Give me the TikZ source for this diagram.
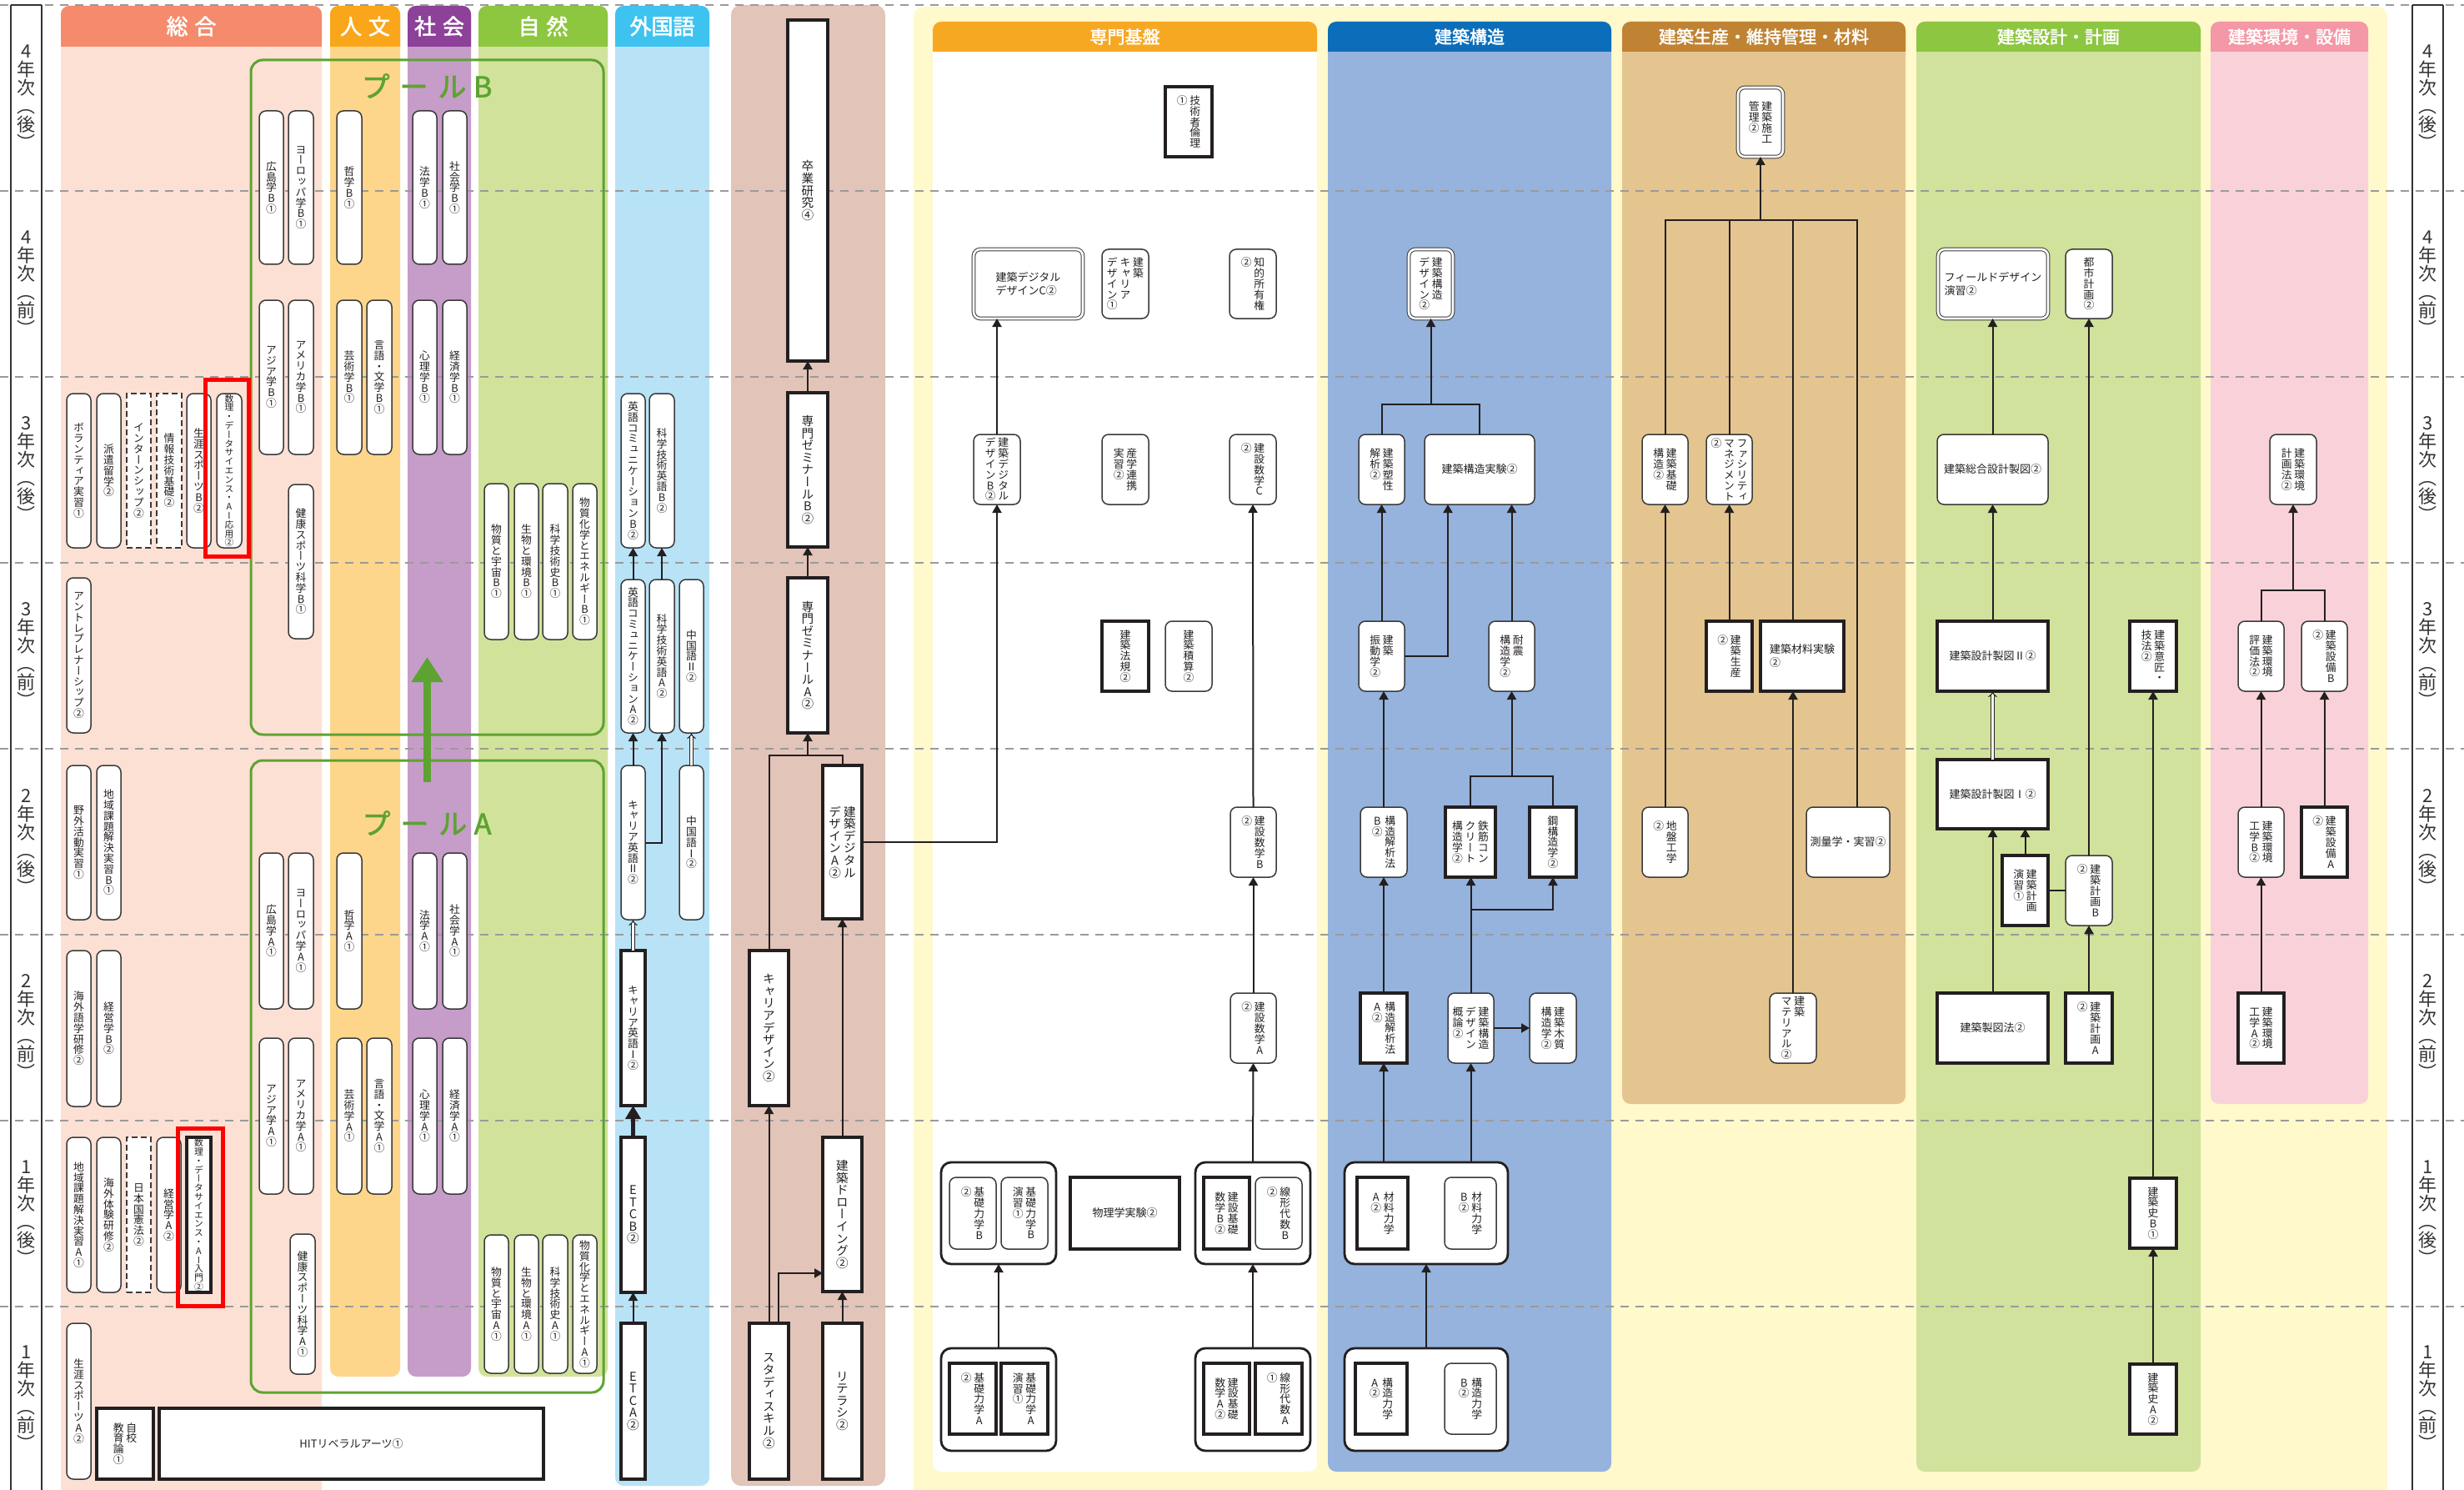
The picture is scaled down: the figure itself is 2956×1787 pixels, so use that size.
\documentclass[tikz,border=0pt]{standalone}
\usepackage{fontspec}
\usetikzlibrary{arrows.meta}
\setmainfont{Noto Sans CJK JP}
\newfontfamily\vf[RawFeature=+vert]{Noto Sans CJK JP}
\newfontfamily\hb[FakeBold=2]{Noto Sans CJK JP}
\newdimen\tp
\def\tend{TEND}
\def\tone#1{\hbox to\tp{\hss#1\hss}}
\def\tloop#1{\ifx#1\tend\else\tone{#1}\expandafter\tloop\fi}
\def\tcol#1{\vtop{\tp=1em\relax\baselineskip=\tp\lineskiplimit=-\maxdimen\lineskip=0pt\tloop#1\tend}}
\newcommand\vtxb[2]{\hbox{\tcol{#2}\hskip0.22em\tcol{#1}}}
\newcommand\vtxc[3]{\hbox{\tcol{#3}\hskip0.22em\tcol{#2}\hskip0.22em\tcol{#1}}}
\newcommand\bx[7]{\node[#1,minimum width={(#5-#3)*0.5pt},minimum height={(#6-#4)*0.5pt}] (#2) at ({(#3+#5)/2},{(#4+#6)/2}) {#7};}
\newcommand\colm[7]{%
  \fill[#7, rounded corners=5pt] (#1,#2) rectangle (#3,#5);
  \fill[#6] (#1,#4) [rounded corners=5pt] -- (#1,#2) -- (#3,#2) [sharp corners] -- (#3,#4) -- cycle;}
\definecolor{tx}{HTML}{231F20}
\definecolor{bd}{HTML}{3A3A3A}
\definecolor{bk}{HTML}{231F20}
\definecolor{lc}{HTML}{231F20}
\definecolor{pg}{HTML}{5DA331}
\definecolor{dashc}{HTML}{9A9A9A}
\definecolor{cSogoH}{HTML}{F58B6C}\definecolor{cSogoB}{HTML}{FDE0D4}
\definecolor{cJinH}{HTML}{FAA61A}\definecolor{cJinB}{HTML}{FDD68B}
\definecolor{cShaH}{HTML}{8D4199}\definecolor{cShaB}{HTML}{C69CC9}
\definecolor{cShiH}{HTML}{8DC63F}\definecolor{cShiB}{HTML}{D1E39B}
\definecolor{cGaiH}{HTML}{3EC3F0}\definecolor{cGaiB}{HTML}{B8E3F7}
\definecolor{cBrn}{HTML}{E2C4B9}
\definecolor{cYlw}{HTML}{FFF9CC}
\definecolor{cSenH}{HTML}{F7A823}
\definecolor{cKozH}{HTML}{0C6EBB}\definecolor{cKozB}{HTML}{95B3DD}
\definecolor{cSeiH}{HTML}{C08333}\definecolor{cSeiB}{HTML}{E4C590}
\definecolor{cSekH}{HTML}{8DC640}\definecolor{cSekB}{HTML}{D0E29B}
\definecolor{cKanH}{HTML}{F497A6}\definecolor{cKanB}{HTML}{F9D2D9}
\definecolor{lblc}{HTML}{333333}
\tikzset{
 nb/.style={inner sep=0pt, outer sep=0pt, fill=white, text=tx, font=\vf\fontsize{6.4}{6.4}\selectfont},
 rb/.style={nb, draw=bd, line width=0.75pt, rounded corners=4pt},
 sb/.style={nb, draw=bk, line width=1.8pt},
 db/.style={nb, draw=bd, line width=0.5pt, double=white, double distance=1.3pt, rounded corners=4pt},
 dsb/.style={nb, draw=bd, line width=0.7pt, dash pattern=on 3.5pt off 2pt},
 grp/.style={nb, draw=bk, line width=1.4pt, rounded corners=6pt},
 hz/.style={font=\fontsize{6.5}{8}\selectfont, align=center},
 hzl/.style={font=\fontsize{6.5}{8}\selectfont, align=left},
 bigf/.style={font=\vf\fontsize{7.3}{7.3}\selectfont},
 smf/.style={font=\vf\fontsize{5.4}{5.4}\selectfont},
 pool/.style={draw=pg, line width=1.5pt, rounded corners=7pt, inner sep=0pt, outer sep=0pt},
 redb/.style={draw=red, line width=2.5pt, inner sep=0pt, outer sep=0pt},
 arr/.style={draw=lc, line width=1pt, -{Triangle[width=5.5pt,length=5pt]}},
 lk/.style={draw=lc, line width=1pt},
 dbl/.style={draw=lc, line width=0.5pt, double=white, double distance=1.3pt, -{Implies}},
 thk/.style={draw=lc, line width=2.5pt, -{Triangle[width=9pt,length=8pt]}},
 hdr/.style={text=white, font=\hb\fontsize{13}{13}\selectfont, inner sep=0pt},
 hdrs/.style={text=white, font=\hb\fontsize{10.5}{10.5}\selectfont, inner sep=0pt},
 plbl/.style={text=pg, font=\hb\fontsize{17}{17}\selectfont, inner sep=0pt},
 ylbl/.style={text=lblc, font=\vf\fontsize{11}{11}\selectfont, inner sep=0pt},
 dsh/.style={draw=dashc, line width=0.6pt, dash pattern=on 5pt off 4pt},
}
\begin{document}
\begin{tikzpicture}[x=0.5pt,y=-0.5pt]
\useasboundingbox (0,0) rectangle (2956,1787);
\fill[white] (0,0) rectangle (2956,1787);
% ---- backgrounds
\fill[cYlw, rounded corners=6pt] (1096,8) rectangle (2864,1810);
\colm{73}{7}{386}{56}{1810}{cSogoH}{cSogoB}
\colm{396}{7}{480}{56}{1651}{cJinH}{cJinB}
\colm{489}{7}{565}{56}{1651}{cShaH}{cShaB}
\colm{574}{7}{729}{56}{1651}{cShiH}{cShiB}
\colm{738}{7}{851}{56}{1782}{cGaiH}{cGaiB}
\fill[cBrn, rounded corners=6pt] (877,6) rectangle (1062,1782);
\colm{1119}{26}{1580}{62}{1765}{cSenH}{white}
\colm{1593}{26}{1933}{62}{1765}{cKozH}{cKozB}
\colm{1946}{26}{2286}{62}{1324}{cSeiH}{cSeiB}
\colm{2299}{26}{2640}{62}{1765}{cSekH}{cSekB}
\colm{2652}{26}{2841}{62}{1324}{cKanH}{cKanB}
% ---- headers
\node[hdr] (hSogo) at (229.5,31.5) {総\hspace{.3em}合};
\node[hdr] (hJin) at (438,31.5) {人\hspace{.3em}文};
\node[hdr] (hSha) at (527,31.5) {社\hspace{.3em}会};
\node[hdr] (hShi) at (651.5,31.5) {自\hspace{.3em}然};
\node[hdr] (hGai) at (794.5,31.5) {外国語};
\node[hdrs] (hSen) at (1349.5,44) {専門基盤};
\node[hdrs] (hKoz) at (1763,44) {建築構造};
\node[hdrs] (hSei) at (2116,44) {建築生産・維持管理・材料};
\node[hdrs] (hSek) at (2469.5,44) {建築設計・計画};
\node[hdrs] (hKan) at (2746.5,44) {建築環境・設備};
% ---- grid
\foreach \yy in {6,229,452,675,898,1121,1344,1567} \draw[dsh] (0,\yy) -- (2956,\yy);
\foreach \xx in {13,50,2894,2931} \draw[draw=lblc, line width=0.6pt] (\xx,6) -- (\xx,1787);
\draw[draw=lblc, line width=0.6pt] (13,6) -- (50,6) (2894,6) -- (2931,6);
\foreach \yc/\lb [count=\i] in {117/4年次︵後︶,340/4年次︵前︶,563/3年次︵後︶,786/3年次︵前︶,1010/2年次︵後︶,1232/2年次︵前︶,1455/1年次︵後︶,1677/1年次︵前︶}{
  \node[ylbl] (lL\i) at (31.5,\yc) {\expandafter\tcol\expandafter{\lb}};
  \node[ylbl] (lR\i) at (2912.5,\yc) {\expandafter\tcol\expandafter{\lb}};
}
% ---- pools
\bx{pool}{poolB}{301}{72}{724}{881}{}
\bx{pool}{poolA}{301}{912}{724}{1670}{}
\node[plbl] (plB) at (512,103) {プ\hspace{.35em}ー\hspace{.35em}ル\hspace{.25em}B};
\node[plbl] (plA) at (512,987) {プ\hspace{.35em}ー\hspace{.35em}ル\hspace{.25em}A};
\draw[draw=pg, line width=4.5pt, -{Triangle[width=18pt,length=15pt]}] ([yshift=-13pt]poolA.north) -- ([yshift=46.5pt]poolB.south);
% ---- 総合
\bx{rb}{volunteer}{80}{472}{109}{657}{\tcol{ボランティア実習①}}
\bx{rb}{haken}{116}{472}{145}{657}{\tcol{派遣留学②}}
\bx{dsb}{intern}{152}{472}{181}{657}{\tcol{インターンシップ②}}
\bx{dsb}{joho}{188}{472}{218}{657}{\tcol{情報技術基礎②}}
\bx{rb}{shogaiB}{224}{472}{253}{657}{\tcol{生涯スポーツB②}}
\bx{rb,smf}{suriO}{260}{472}{290}{657}{\tcol{数理・データサイエンス・AI応用②}}
\bx{rb}{entre}{80}{693}{109}{879}{\tcol{アントレプレナーシップ②}}
\bx{rb}{yagai}{80}{918}{109}{1103}{\tcol{野外活動実習①}}
\bx{rb}{chiikiB}{116}{918}{145}{1103}{\tcol{地域課題解決実習B①}}
\bx{rb}{kaigaiGo}{80}{1140}{109}{1327}{\tcol{海外語学研修②}}
\bx{rb}{keieiB}{116}{1140}{145}{1327}{\tcol{経営学B②}}
\bx{rb}{chiikiA}{80}{1364}{109}{1550}{\tcol{地域課題解決実習A①}}
\bx{rb}{kaigaiTai}{116}{1364}{145}{1550}{\tcol{海外体験研修②}}
\bx{dsb}{kenpo}{152}{1364}{181}{1550}{\tcol{日本国憲法②}}
\bx{rb}{keieiA}{188}{1364}{217}{1550}{\tcol{経営学A②}}
\bx{sb,smf}{suriN}{224}{1364}{253}{1550}{\tcol{数理・データサイエンス・AI入門②}}
\bx{rb}{shogaiA}{80}{1587}{109}{1774}{\tcol{生涯スポーツA②}}
\bx{sb}{jiko}{116}{1689}{184}{1774}{\vtxb{自校}{教育論①}}
\bx{sb,hz}{hit}{191}{1689}{652}{1774}{HITリベラルアーツ①}
\bx{redb}{red1}{246}{455}{298}{667}{}
\bx{redb}{red2}{213}{1353}{267}{1566}{}
% ---- pool B
\bx{rb}{hiroB}{311}{133}{340}{317}{\tcol{広島学B①}}
\bx{rb}{euroB}{346}{133}{376}{317}{\tcol{ヨーロッパ学B①}}
\bx{rb}{tetsuB}{404}{133}{434}{317}{\tcol{哲学B①}}
\bx{rb}{hoB}{495}{133}{524}{317}{\tcol{法学B①}}
\bx{rb}{shakaiB}{531}{133}{560}{317}{\tcol{社会学B①}}
\bx{rb}{asiaB}{311}{360}{340}{545}{\tcol{アジア学B①}}
\bx{rb}{ameB}{346}{360}{376}{545}{\tcol{アメリカ学B①}}
\bx{rb}{geiB}{404}{360}{434}{545}{\tcol{芸術学B①}}
\bx{rb}{gengoB}{440}{360}{470}{545}{\tcol{言語・文学B①}}
\bx{rb}{shinriB}{495}{360}{524}{545}{\tcol{心理学B①}}
\bx{rb}{keizaiB}{531}{360}{560}{545}{\tcol{経済学B①}}
\bx{rb}{kenkoB}{346}{581}{376}{766}{\tcol{健康スポーツ科学B①}}
\bx{rb}{uchuB}{581}{580}{610}{767}{\tcol{物質と宇宙B①}}
\bx{rb}{seibutsuB}{617}{580}{646}{767}{\tcol{生物と環境B①}}
\bx{rb}{kagakuB}{651}{580}{681}{767}{\tcol{科学技術史B①}}
\bx{rb}{energyB}{687}{580}{716}{767}{\tcol{物質化学とエネルギーB①}}
% ---- pool A
\bx{rb}{hiroA}{311}{1023}{340}{1210}{\tcol{広島学A①}}
\bx{rb}{euroA}{346}{1023}{376}{1210}{\tcol{ヨーロッパ学A①}}
\bx{rb}{tetsuA}{404}{1023}{434}{1210}{\tcol{哲学A①}}
\bx{rb}{hoA}{495}{1023}{524}{1210}{\tcol{法学A①}}
\bx{rb}{shakaiA}{531}{1023}{560}{1210}{\tcol{社会学A①}}
\bx{rb}{asiaA}{311}{1245}{340}{1432}{\tcol{アジア学A①}}
\bx{rb}{ameA}{346}{1245}{376}{1432}{\tcol{アメリカ学A①}}
\bx{rb}{geiA}{404}{1245}{434}{1432}{\tcol{芸術学A①}}
\bx{rb}{gengoA}{440}{1245}{470}{1432}{\tcol{言語・文学A①}}
\bx{rb}{shinriA}{495}{1245}{524}{1432}{\tcol{心理学A①}}
\bx{rb}{keizaiA}{531}{1245}{560}{1432}{\tcol{経済学A①}}
\bx{rb}{kenkoA}{348}{1480}{378}{1648}{\tcol{健康スポーツ科学A①}}
\bx{rb}{uchuA}{581}{1481}{610}{1647}{\tcol{物質と宇宙A①}}
\bx{rb}{seibutsuA}{617}{1481}{646}{1647}{\tcol{生物と環境A①}}
\bx{rb}{kagakuA}{651}{1481}{681}{1647}{\tcol{科学技術史A①}}
\bx{rb}{energyA}{687}{1481}{716}{1647}{\tcol{物質化学とエネルギーA①}}
% ---- 外国語
\bx{rb}{engB}{745}{472}{774}{657}{\tcol{英語コミュニケーションB②}}
\bx{rb}{sciB}{779}{472}{809}{657}{\tcol{科学技術英語B②}}
\bx{rb}{engA}{745}{695}{774}{879}{\tcol{英語コミュニケーションA②}}
\bx{rb}{sciA}{779}{695}{809}{879}{\tcol{科学技術英語A②}}
\bx{rb}{chnII}{815}{695}{844}{879}{\tcol{中国語Ⅱ②}}
\bx{rb}{careerII}{745}{918}{774}{1103}{\tcol{キャリア英語Ⅱ②}}
\bx{rb}{chnI}{815}{918}{844}{1103}{\tcol{中国語Ⅰ②}}
\bx{sb}{careerI}{745}{1140}{774}{1326}{\tcol{キャリア英語Ⅰ②}}
\bx{sb,bigf}{etcB}{745}{1364}{774}{1550}{\tcol{ETCB②}}
\bx{sb,bigf}{etcA}{745}{1587}{774}{1774}{\tcol{ETCA②}}
% ---- brown column
\bx{sb,bigf}{sotsu}{945}{24}{993}{433}{\tcol{卒業研究④}}
\bx{sb,bigf}{zemiB}{945}{471}{993}{656}{\tcol{専門ゼミナールB②}}
\bx{sb,bigf}{zemiA}{945}{693}{993}{879}{\tcol{専門ゼミナールA②}}
\bx{sb,bigf}{digA}{987}{918}{1034}{1102}{\vtxb{建築デジタル}{デザインA②}}
\bx{sb,bigf}{careerD}{899}{1140}{946}{1326}{\tcol{キャリアデザイン②}}
\bx{sb,bigf}{drawing}{987}{1364}{1034}{1549}{\tcol{建築ドローイング②}}
\bx{sb,bigf}{study}{899}{1587}{946}{1774}{\tcol{スタディスキル②}}
\bx{sb,bigf}{literacy}{987}{1587}{1034}{1774}{\tcol{リテラシ②}}
% ---- 専門基盤
\bx{sb}{rinri}{1398}{104}{1454}{188}{\vtxb{技術者倫理}{①}}
\bx{db,hzl}{digC}{1168}{299}{1299}{382}{建築デジタル\\デザインC②}
\bx{rb}{kcareer}{1322}{299}{1378}{382}{\vtxc{建築}{キャリア}{デザイン①}}
\bx{rb}{chiteki}{1475}{299}{1531}{382}{\vtxb{知的所有権}{②}}
\bx{rb}{digB}{1168}{521}{1224}{605}{\vtxb{建築デジタル}{デザインB②}}
\bx{rb}{sangaku}{1322}{521}{1378}{605}{\vtxb{産学連携}{実習②}}
\bx{rb}{mathC}{1475}{521}{1531}{605}{\vtxb{建設数学C}{②}}
\bx{sb}{hoki}{1322}{745}{1378}{829}{\tcol{建築法規②}}
\bx{rb}{sekisan}{1398}{745}{1454}{829}{\tcol{建築積算②}}
\bx{rb}{mathB}{1476}{968}{1531}{1052}{\vtxb{建設数学B}{②}}
\bx{rb}{mathA}{1476}{1191}{1531}{1275}{\vtxb{建設数学A}{②}}
\bx{grp}{gL1}{1129}{1394}{1267}{1516}{}
\bx{rb}{kisoB}{1139}{1412}{1195}{1498}{\vtxb{基礎力学B}{②}}
\bx{rb}{kisoEB}{1201}{1412}{1257}{1498}{\vtxb{基礎力学B}{演習①}}
\bx{sb,hz}{butsuri}{1284}{1412}{1415}{1498}{物理学実験②}
\bx{grp}{gR1}{1434}{1394}{1572}{1516}{}
\bx{sb}{kmathB}{1444}{1412}{1499}{1498}{\vtxb{建設基礎}{数学B②}}
\bx{rb}{senkeiB}{1506}{1412}{1562}{1498}{\vtxb{線形代数B}{②}}
\bx{grp}{gL0}{1129}{1617}{1267}{1740}{}
\bx{sb}{kisoA}{1139}{1635}{1195}{1720}{\vtxb{基礎力学A}{②}}
\bx{sb}{kisoEA}{1201}{1635}{1257}{1720}{\vtxb{基礎力学A}{演習①}}
\bx{grp}{gR0}{1434}{1617}{1572}{1740}{}
\bx{sb}{kmathA}{1444}{1635}{1499}{1720}{\vtxb{建設基礎}{数学A②}}
\bx{sb}{senkeiA}{1506}{1635}{1562}{1720}{\vtxb{線形代数A}{①}}
% ---- 建築構造
\bx{db}{sdesign}{1690}{299}{1743}{382}{\vtxb{建築構造}{デザイン②}}
\bx{rb}{sosei}{1630}{521}{1685}{605}{\vtxb{建築塑性}{解析②}}
\bx{rb,hz}{sjikken}{1709}{521}{1841}{605}{建築構造実験②}
\bx{rb}{shindo}{1630}{745}{1685}{829}{\vtxb{建築}{振動学②}}
\bx{rb}{taishin}{1786}{745}{1841}{829}{\vtxb{耐震}{構造学②}}
\bx{rb}{kaisekiB}{1632}{968}{1688}{1052}{\vtxb{構造解析法}{B②}}
\bx{sb}{rc}{1734}{968}{1794}{1052}{\vtxc{鉄筋コン}{クリート}{構造学②}}
\bx{sb}{kou}{1835}{968}{1891}{1052}{\tcol{鋼構造学②}}
\bx{sb}{kaisekiA}{1632}{1191}{1688}{1275}{\vtxb{構造解析法}{A②}}
\bx{rb}{gairon}{1737}{1191}{1792}{1275}{\vtxc{建築構造}{デザイン}{概論②}}
\bx{rb}{mokushitsu}{1835}{1191}{1891}{1275}{\vtxb{建築木質}{構造学②}}
\bx{grp}{gS1}{1613}{1394}{1809}{1516}{}
\bx{sb}{zairikiA}{1628}{1412}{1689}{1498}{\vtxb{材料力学}{A②}}
\bx{rb}{zairikiB}{1733}{1412}{1795}{1498}{\vtxb{材料力学}{B②}}
\bx{grp}{gS0}{1613}{1617}{1809}{1740}{}
\bx{sb}{kozoA}{1626}{1635}{1688}{1720}{\vtxb{構造力学}{A②}}
\bx{rb}{kozoB}{1733}{1635}{1795}{1720}{\vtxb{構造力学}{B②}}
% ---- 生産
\bx{db}{sekou}{2085}{105}{2139}{188}{\vtxb{建築施工}{管理②}}
\bx{rb}{kiso}{1970}{521}{2025}{605}{\vtxb{建築基礎}{構造②}}
\bx{rb}{facility}{2047}{521}{2102}{605}{\vtxc{ファシリティ}{マネジメント}{②}}
\bx{sb}{seisan}{2047}{745}{2102}{829}{\vtxb{建築生産}{②}}
\bx{sb,hzl}{zjikken}{2112}{745}{2212}{829}{建築材料実験\\②}
\bx{rb}{jiban}{1970}{968}{2025}{1052}{\vtxb{地盤工学}{②}}
\bx{rb,hz}{sokuryo}{2167}{968}{2267}{1052}{測量学・実習②}
\bx{rb}{material}{2123}{1191}{2179}{1275}{\vtxb{建築}{マテリアル②}}
% ---- 設計・計画
\bx{db,hzl}{field}{2325}{299}{2457}{382}{フィールドデザイン\\演習②}
\bx{rb}{toshi}{2478}{299}{2534}{382}{\tcol{都市計画②}}
\bx{rb,hz}{sogo}{2324}{521}{2457}{605}{建築総合設計製図②}
\bx{sb,hz}{seizu2}{2324}{745}{2457}{829}{建築設計製図Ⅱ②}
\bx{sb}{isho}{2555}{745}{2611}{829}{\vtxb{建築意匠・}{技法②}}
\bx{sb,hz}{seizu1}{2324}{911}{2457}{994}{建築設計製図Ⅰ②}
\bx{sb}{kenshu}{2402}{1026}{2457}{1110}{\vtxb{建築計画}{演習①}}
\bx{rb}{keikakuB}{2478}{1026}{2534}{1110}{\vtxb{建築計画B}{②}}
\bx{sb,hz}{seizuho}{2324}{1191}{2457}{1275}{建築製図法②}
\bx{sb}{keikakuA}{2478}{1191}{2534}{1275}{\vtxb{建築計画A}{②}}
\bx{sb}{shiB}{2555}{1413}{2611}{1497}{\tcol{建築史B①}}
\bx{sb}{shiA}{2555}{1636}{2611}{1720}{\tcol{建築史A②}}
% ---- 環境・設備
\bx{rb}{kankyoKei}{2723}{521}{2779}{605}{\vtxb{建築環境}{計画法②}}
\bx{rb}{hyoka}{2685}{745}{2740}{829}{\vtxb{建築環境}{評価法②}}
\bx{rb}{setsubiB}{2761}{745}{2816}{829}{\vtxb{建築設備B}{②}}
\bx{rb}{kkB}{2685}{968}{2740}{1052}{\vtxb{建築環境}{工学B②}}
\bx{sb}{setsubiA}{2761}{968}{2816}{1052}{\vtxb{建築設備A}{②}}
\bx{sb}{kkA}{2685}{1191}{2740}{1275}{\vtxb{建築環境}{工学A②}}
% ==== connectors
% 外国語
\draw[arr] (engA.north) -- (engB.south);
\draw[arr] (sciA.north) -- (sciB.south);
\draw[arr] (careerII.north) -- (engA.south);
\draw[arr] (careerII.east) -| (sciA.south);
\draw[dbl] (careerI.north) -- (careerII.south);
\draw[dbl] (chnI.north) -- (chnII.south);
\draw[thk] (etcB.north) -- (careerI.south);
\draw[arr] (etcA.north) -- (etcB.south);
% brown
\draw[arr] (zemiA.north) -- (zemiB.south);
\draw[arr] (zemiB.north) -- (sotsu.south);
\draw[arr] (study.north) -- (careerD.south);
\draw[arr] ([xshift=5.5pt]study.north) |- ([yshift=11pt]drawing.south west);
\draw[arr] (literacy.north) -- (drawing.south);
\draw[arr] (drawing.north) -- (digA.south);
\coordinate (jz) at (968,906);
\draw[lk] (careerD.north) |- (digA.north |- jz) -- (digA.north);
\draw[arr] (zemiA.south |- jz) -- (zemiA.south);
\draw[arr] (digA.east) -| (digB.south);
% 専門基盤
\draw[arr] (digB.north) -- (digB.north |- digC.south);
\draw[arr] (mathB.north) -- (mathC.south);
\draw[arr] (mathA.north) -- (mathB.south);
\draw[arr] (gR1.north) -- (mathA.south);
\draw[arr] (gL0.north) -- (gL1.south);
\draw[arr] (gR0.north) -- (gR1.south);
% 建築構造
\draw[arr] (kaisekiA.north) -- (kaisekiB.south);
\draw[arr] (kaisekiA.south |- gS1.north) -- (kaisekiA.south);
\draw[arr] (gairon.south |- gS1.north) -- (gairon.south);
\draw[arr] (gS0.north) -- (gS1.south);
\draw[arr] (kaisekiB.north) -- (kaisekiB.north |- shindo.south);
\draw[arr] (gairon.north) -- (gairon.north |- rc.south);
\coordinate (bg) at (1764.5,1091);
\draw[arr] (bg) -| (kou.south);
\draw[arr] (gairon.east) -- (mokushitsu.west);
\coordinate (jr) at (1813,931);
\draw[lk] (rc.north) |- (kou.north |- jr) -- (kou.north);
\draw[arr] (taishin.south |- jr) -- (taishin.south);
\draw[arr] (shindo.north) -- (shindo.north |- sosei.south);
\draw[arr] (shindo.east) -| ([xshift=-19pt]sjikken.south);
\draw[arr] (taishin.north) -- (taishin.north |- sjikken.south);
\coordinate (js) at (1716.5,485);
\draw[lk] (sosei.north) |- (sjikken.north |- js) -- (sjikken.north);
\draw[arr] (sdesign.south |- js) -- (sdesign.south);
% 生産
\coordinate (pR) at (2228,264);
\coordinate (pM) at (2151,264);
\draw[lk] (kiso.north) |- (pR) -- (pR |- sokuryo.north);
\draw[lk] (facility.north) -- (facility.north |- pR);
\draw[lk] (pM) -- (pM |- zjikken.north);
\draw[arr] (sekou.south |- pR) -- (sekou.south);
\draw[arr] (jiban.north) -- (kiso.south);
\draw[arr] (seisan.north) -- (facility.south);
\draw[arr] (material.north) -- (material.north |- zjikken.south);
% 設計・計画
\draw[arr] (seizu2.north) -- (sogo.south);
\draw[arr] (sogo.north) -- (sogo.north |- field.south);
\draw[dbl] (seizu1.north) -- (seizu2.south);
\draw[arr] (seizuho.north) -- (seizu1.south);
\draw[arr] (kenshu.north) -- (kenshu.north |- seizu1.south);
\draw[lk] (kenshu.east) -- (keikakuB.west);
\draw[arr] (keikakuA.north) -- (keikakuB.south);
\draw[arr] (keikakuB.north) -- (toshi.south);
\draw[arr] (shiA.north) -- (shiB.south);
\draw[arr] (shiB.north) -- (isho.south);
% 環境
\draw[arr] (kkA.north) -- (kkB.south);
\draw[arr] (kkB.north) -- (hyoka.south);
\draw[arr] (setsubiA.north) -- (setsubiB.south);
\coordinate (je) at (2751,708);
\draw[lk] (hyoka.north) |- (setsubiB.north |- je) -- (setsubiB.north);
\draw[arr] (kankyoKei.south |- je) -- (kankyoKei.south);
\end{tikzpicture}
\end{document}
